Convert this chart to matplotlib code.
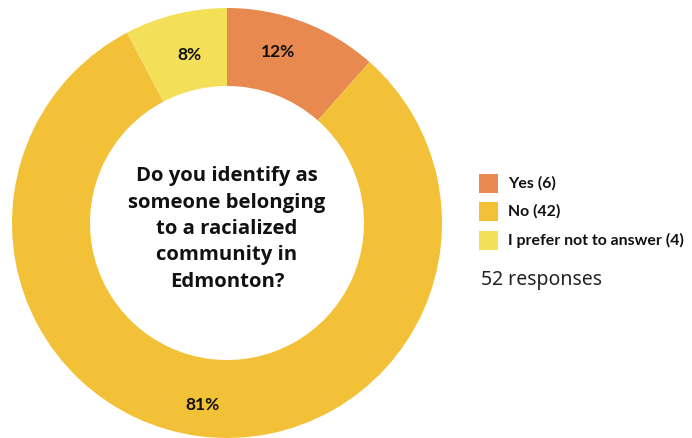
import matplotlib
matplotlib.use("Agg")
import matplotlib.pyplot as plt
from matplotlib.patches import Rectangle
import numpy as np

categories = ["Yes", "No", "I prefer not to answer"]
counts = [6, 42, 4]
colors = ["#E8894F", "#F3C137", "#F4E058"]
question = "Do you identify as\nsomeone belonging\nto a racialized\ncommunity in\nEdmonton?"

W, H = 692, 438
fig = plt.figure(figsize=(W / 100, H / 100), dpi=100)
ax = fig.add_axes([0, 0, 1, 1])

cx, cy = 227, H - 223
R, ring = 215, 78
total = sum(counts)

wedges, _ = ax.pie(counts, colors=colors, startangle=90, counterclock=False,
                   radius=R, center=(cx, cy), frame=True,
                   wedgeprops=dict(width=ring, linewidth=0))

ink = "#111111"

# percentage labels in the ring
label_r = [178, 184, 172]
angle_adj = [4.2, -0.6, -1.1]
start = 90.0
for n, lr, adj in zip(counts, label_r, angle_adj):
    span = n / total * 360
    mid = np.deg2rad(start - span / 2 + adj)
    start -= span
    ax.text(cx + lr * np.cos(mid), cy + lr * np.sin(mid), f"{round(n / total * 100)}%",
            ha="center", va="center", fontsize=12.5,
            family=["Lato", "DejaVu Sans"], weight="bold", color=ink)

ax.text(cx, H - 229, question, ha="center", va="center", fontsize=14.6,
        linespacing=1.42, family=["Open Sans", "DejaVu Sans"], weight="bold",
        color=ink)

# legend
lx, ly0, step, sq = 479, H - 183, 28.5, 19
for i, (cat, n, c) in enumerate(zip(categories, counts, colors)):
    y = ly0 - i * step
    ax.add_patch(Rectangle((lx, y - sq / 2), sq, sq, facecolor=c, edgecolor="none"))
    ax.text(lx + 29, y, f"{cat} ({n})", ha="left", va="center", fontsize=11.4,
            family=["Lato", "DejaVu Sans"], weight="bold", color=ink)

ax.text(lx + 2, H - 280, f"{total} responses", ha="left", va="center",
        fontsize=14, family=["Noto Sans", "DejaVu Sans"], color="#222222")

ax.set_xlim(0, W)
ax.set_ylim(0, H)
ax.set_aspect("equal")
ax.axis("off")
fig.savefig("out.png", dpi=100)
